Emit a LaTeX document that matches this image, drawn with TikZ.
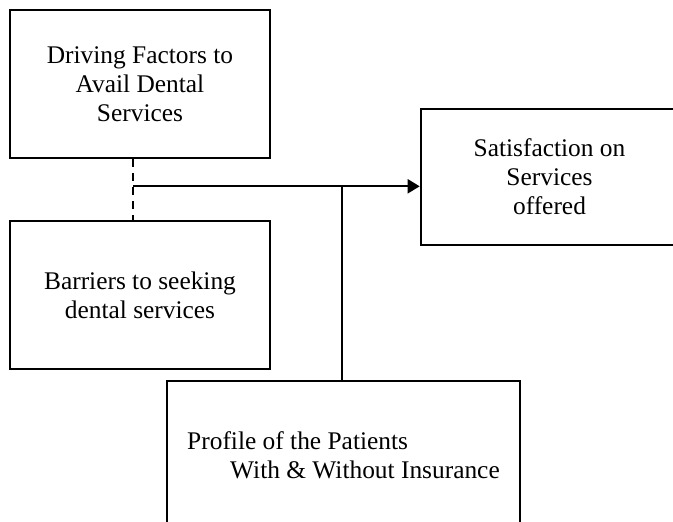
\documentclass[tikz,border=0pt]{standalone}
\usepackage{fontspec}
\setmainfont{Liberation Serif}
\usepackage{tikz}
\usetikzlibrary{calc,positioning,arrows.meta}

\begin{document}
\begin{tikzpicture}[x=0.5pt, y=-0.5pt, line width=1pt,
        font=\fontsize{12.7}{14.5}\selectfont,
        factorbox/.style={draw, rectangle, line width=1.3pt, align=center, minimum height=74pt}]
        \useasboundingbox (0,0) rectangle (673,521);
        \clip (0,0) rectangle (673,521);

        \node[factorbox, minimum width=130pt] (drivers) at (140,84) {Driving Factors to\\Avail Dental\\Services};
        \node[factorbox, minimum width=130pt] (barriers) at (140,295) {Barriers to seeking\\dental services};
        \node[factorbox, minimum width=128.5pt, minimum height=68pt] (satisfaction) at (549.5,177) {Satisfaction on\\Services\\offered};
        \node[factorbox, minimum width=176.5pt, align=left] (profile) at (343.5,455) {Profile of the Patients\\\hspace*{21.5pt}With \& Without Insurance};

        \coordinate (join) at ($(drivers.south)+(-7,27)$);

        \draw[dash pattern=on 4pt off 3pt] (drivers.south -| join) -- (barriers.north -| join);
        \draw[-{Triangle[length=6pt, width=7pt]}] (join) -- (join -| satisfaction.west);
        \draw ([xshift=-0.75pt]profile.north) -- ([xshift=-0.75pt]profile.north |- join);
    \end{tikzpicture}
\end{document}
